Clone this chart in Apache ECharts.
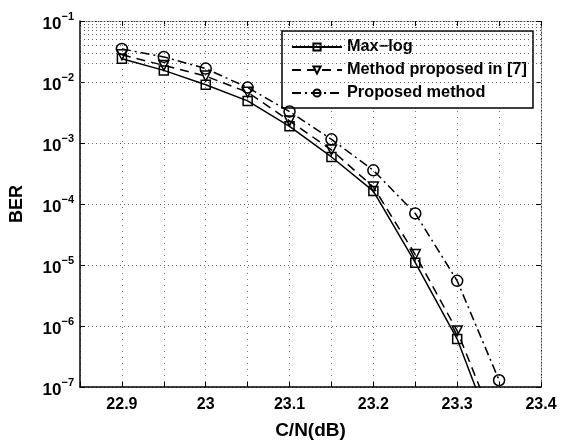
<!DOCTYPE html>
<html>
<head>
<meta charset="utf-8">
<script src="https://cdn.jsdelivr.net/npm/echarts@6/dist/echarts.min.js"></script>
<style>html,body{margin:0;padding:0;background:#fff;}#c{width:562px;height:445px;}</style>
</head>
<body>
<div id="c"></div>
<script>
// ---- data ----
var cn = [22.9, 22.95, 23.0, 23.05, 23.1, 23.15, 23.2, 23.25, 23.3, 23.35];
var berMaxLog = [0.024, 0.0155, 0.0090, 0.0049, 0.00188, 0.00059, 0.000163, 1.09e-5, 6.1e-7, 9.5e-9];
var berRef7 = [0.028, 0.0187, 0.0125, 0.0068, 0.0023, 0.00077, 0.00019, 1.48e-5, 8.3e-7, 1.6e-8];
var berProposed = [0.0348, 0.0258, 0.0166, 0.0081, 0.00328, 0.00115, 0.000356, 7.0e-5, 5.5e-6, 1.29e-7];
var seriesNames = ['Max\u2212log', 'Method proposed in [7]', 'Proposed method'];
var xTicks = [22.9, 23, 23.1, 23.2, 23.3, 23.4];
var yDecades = [-7, -6, -5, -4, -3, -2, -1];

var yMinor = [];
for (var d = -7; d < -1; d++) {
  for (var m = 2; m <= 9; m++) yMinor.push(m * Math.pow(10, d));
}

function pairs(ys) { return cn.map(function (x, i) { return [x, ys[i]]; }); }

var FONT = '"Liberation Sans", Arial, sans-serif';
var gridDotH = { color: '#666', width: 1, type: [1, 3] };
var gridDotV = { color: '#777', width: 1, type: [1, 5] };

var chart = echarts.init(document.getElementById('c'), null, { renderer: 'canvas' });
chart.setOption({
  backgroundColor: '#fff',
  animation: false,
  textStyle: { fontFamily: FONT },
  grid: { left: 76, right: 21, top: 21, bottom: 53, containLabel: false },
  legend: {
    left: 282, top: 31, orient: 'vertical',
    data: seriesNames,
    backgroundColor: '#fff', borderColor: '#000', borderWidth: 1.5,
    padding: [7, 6, 6, 9], itemGap: 5, itemWidth: 50, itemHeight: 9,
    textStyle: { fontFamily: FONT, fontWeight: 'bold', fontSize: 16.3, color: '#000', lineHeight: 18 }
  },
  xAxis: [{
    type: 'value', min: 22.85, max: 23.4, interval: 0.05,
    name: 'C/N(dB)', nameLocation: 'middle', nameGap: 34,
    nameTextStyle: { fontFamily: FONT, fontWeight: 'bold', fontSize: 19, color: '#000' },
    axisLine: { show: true, lineStyle: { color: '#000', width: 1.5 } },
    axisTick: { show: true, inside: true, length: 5, lineStyle: { color: '#000' } },
    axisLabel: {
      margin: 10, fontFamily: FONT, fontWeight: 'bold', fontSize: 16, color: '#000',
      formatter: function (v) {
        var r = Math.round(v * 10) / 10;
        if (Math.abs(v - r) > 1e-6) return '';
        for (var i = 0; i < xTicks.length; i++) if (Math.abs(xTicks[i] - r) < 1e-6) return String(xTicks[i]);
        return '';
      }
    },
    splitLine: { show: true, lineStyle: gridDotV }
  }, {
    type: 'value', min: 22.85, max: 23.4, interval: 0.05, position: 'top',
    axisLine: { show: true, lineStyle: { color: '#444', width: 1, type: [1, 2] } },
    axisTick: { show: true, inside: true, length: 5, lineStyle: { color: '#000' } },
    axisLabel: { show: false }, splitLine: { show: false }
  }],
  yAxis: [{
    type: 'log', logBase: 10, min: 1e-7, max: 1e-1,
    name: 'BER', nameLocation: 'middle', nameGap: 54, nameRotate: 90,
    nameTextStyle: { fontFamily: FONT, fontWeight: 'bold', fontSize: 18, color: '#000' },
    axisLine: { show: true, lineStyle: { color: '#000', width: 1.5 } },
    axisTick: { show: true, inside: true, length: 5, lineStyle: { color: '#000' } },
    axisLabel: {
      margin: 6, color: '#000',
      formatter: function (v) {
        var e = Math.round(Math.log(v) / Math.LN10);
        if (yDecades.indexOf(e) < 0) return '';
        return '{a|10}{b|' + (e < 0 ? '\u2212' : '') + Math.abs(e) + '}';
      },
      rich: {
        a: { fontFamily: FONT, fontWeight: 'bold', fontSize: 17, color: '#000', padding: [6, 0, 0, 0] },
        b: { fontFamily: FONT, fontWeight: 'bold', fontSize: 11, color: '#000', padding: [0, 0, 8, 0] }
      }
    },
    splitLine: { show: true, lineStyle: gridDotH }
  }, {
    type: 'log', logBase: 10, min: 1e-7, max: 1e-1, position: 'right',
    axisLine: { show: true, lineStyle: { color: '#444', width: 1, type: [1, 2] } },
    axisTick: { show: true, inside: true, length: 5, lineStyle: { color: '#000' } },
    axisLabel: { show: false }, splitLine: { show: false }
  }],
  series: [{
    name: seriesNames[0], type: 'line', data: pairs(berMaxLog), clip: true,
    symbol: 'rect', symbolSize: 9,
    lineStyle: { color: '#000', width: 1.5, type: 'solid' },
    itemStyle: { color: 'rgba(0,0,0,0)', borderColor: '#000', borderWidth: 1.5 },
    z: 5,
    markLine: {
      silent: true, symbol: 'none', label: { show: false }, animation: false,
      lineStyle: gridDotH, emphasis: { disabled: true },
      data: yMinor.map(function (v) { return { yAxis: v }; })
    }
  }, {
    name: seriesNames[1], type: 'line', data: pairs(berRef7), clip: true,
    symbol: 'triangle', symbolRotate: 180, symbolSize: 10,
    lineStyle: { color: '#000', width: 1.5, type: [9, 6] },
    itemStyle: { color: 'rgba(0,0,0,0)', borderColor: '#000', borderWidth: 1.5 },
    z: 5
  }, {
    name: seriesNames[2], type: 'line', data: pairs(berProposed), clip: true,
    symbol: 'circle', symbolSize: 11,
    lineStyle: { color: '#000', width: 1.5, type: [9, 4, 2, 4] },
    itemStyle: { color: 'rgba(0,0,0,0)', borderColor: '#000', borderWidth: 1.5 },
    z: 5
  }]
});
</script>
</body>
</html>
